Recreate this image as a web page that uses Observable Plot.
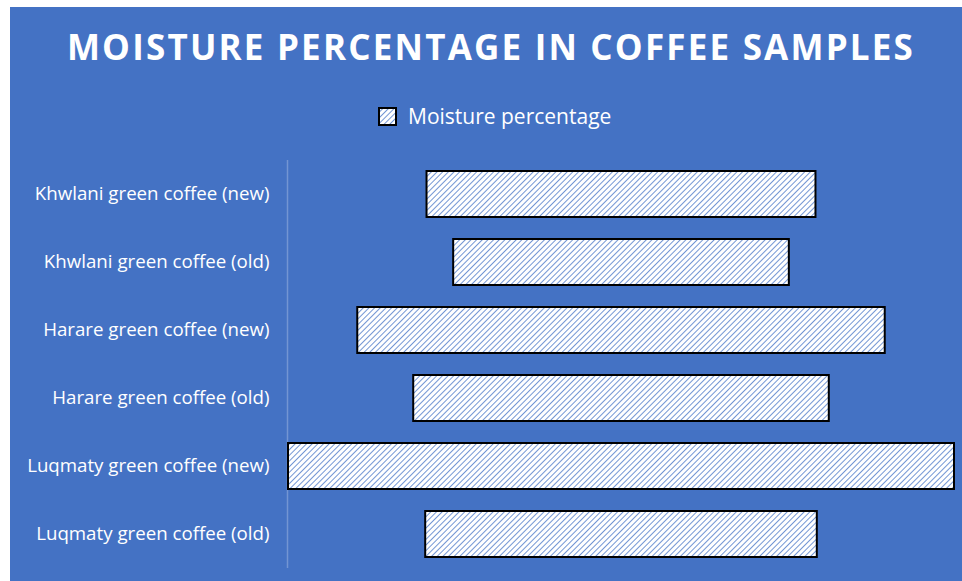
<!DOCTYPE html>
<html>
<head>
<meta charset="utf-8">
<script src="https://cdn.jsdelivr.net/npm/d3@7"></script>
<script src="https://cdn.jsdelivr.net/npm/@observablehq/plot@0.6"></script>
<style>
  html, body { margin: 0; padding: 0; background: #ffffff; width: 962px; height: 581px; overflow: hidden; }
  #bg { position: absolute; left: 10px; top: 7px; width: 952px; height: 574px; background: #4472C4; }
  #title { position: absolute; left: 0; width: 982px; top: 24px; text-align: center; color: #ffffff;
    font-family: "Open Sans", sans-serif; font-weight: 700; font-size: 35px; letter-spacing: 2.2px; line-height: 46px; }
  #legend { position: absolute; left: 378px; top: 102px; display: flex; align-items: center; color: #ffffff;
    font-family: "Open Sans", sans-serif; font-size: 21px; }
  #legend svg { margin-right: 11px; }
  #chart { position: absolute; left: 0; top: 150px; }
</style>
</head>
<body>
<div id="bg"></div>
<div id="title">MOISTURE PERCENTAGE IN COFFEE SAMPLES</div>
<div id="legend"><svg width="19" height="19"><defs><pattern id="hatchL" patternUnits="userSpaceOnUse" width="4" height="4" patternTransform="rotate(45)"><rect width="4" height="4" fill="#ffffff"/><line x1="0" y1="0" x2="0" y2="4" stroke="#4f7bca" stroke-width="1.6"/></pattern></defs><rect x="1" y="1" width="17" height="17" fill="url(#hatchL)" stroke="#000" stroke-width="2"/></svg><span>Moisture percentage</span></div>
<div id="chart"></div>
<script>
const samples = [
  "Khwlani green coffee (new)",
  "Khwlani green coffee (old)",
  "Harare green coffee (new)",
  "Harare green coffee (old)",
  "Luqmaty green coffee (new)",
  "Luqmaty green coffee (old)"
];
const moisture = [7.3, 6.3, 9.9, 7.8, 12.5, 7.35];
const seriesName = "Moisture percentage";

const data = samples.map((s, i) => ({sample: s, value: moisture[i]}));
const maxV = d3.max(moisture);

const plot = Plot.plot({
  width: 962,
  height: 431,
  marginLeft: 288,
  marginRight: 8,
  marginTop: 10,
  marginBottom: 13,
  style: {background: "transparent", color: "#ffffff", fontFamily: "'Open Sans', sans-serif", fontSize: "18.7px"},
  x: {domain: [-maxV / 2, maxV / 2], axis: null},
  y: {domain: samples, paddingInner: 0.32, paddingOuter: 0.16, label: null, tickSize: 0, tickPadding: 19},
  marks: [
    Plot.ruleX([-maxV / 2], {stroke: "#ffffff", strokeOpacity: 0.25, strokeWidth: 1.5, dx: -1}),
    Plot.barX(data, {y: "sample", x1: d => -d.value / 2, x2: d => d.value / 2, fill: "url(#hatch)", stroke: "#000000", strokeWidth: 2, title: d => `${d.sample}: ${d.value}%`}),
    Plot.axisY({tickSize: 0, tickPadding: 19, fontSize: 18.7, fill: "#ffffff", label: null})
  ]
});
const defs = d3.create("svg:defs");
defs.html('<pattern id="hatch" patternUnits="userSpaceOnUse" width="4" height="4" patternTransform="rotate(45)"><rect width="4" height="4" fill="#ffffff"/><line x1="0" y1="0" x2="0" y2="4" stroke="#4f7bca" stroke-width="1.6"/></pattern>');
plot.insertBefore(defs.node(), plot.firstChild);
document.getElementById("chart").appendChild(plot);
</script>
</body>
</html>
